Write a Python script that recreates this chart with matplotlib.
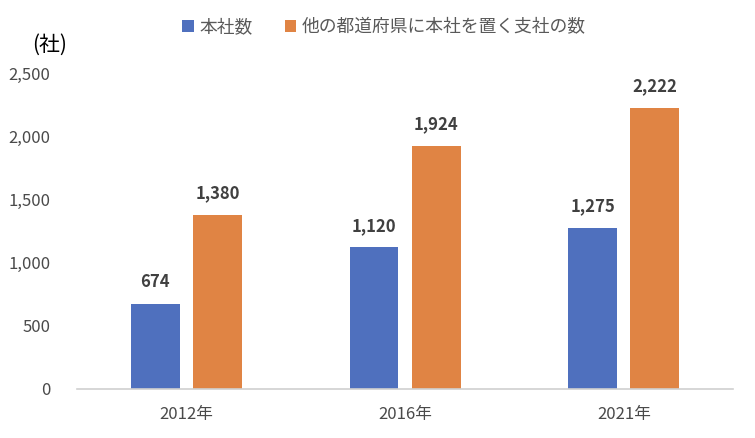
import matplotlib
matplotlib.use("Agg")
import matplotlib.pyplot as plt
import numpy as np

plt.rcParams['font.family'] = ['Noto Sans CJK JP', 'DejaVu Sans']

categories = ["2012年", "2016年", "2021年"]
series_names = ["本社数", "他の都道府県に本社を置く支社の数"]
honsha = [674, 1120, 1275]
shisha = [1380, 1924, 2222]
yticks = [0, 500, 1000, 1500, 2000, 2500]
colors = ["#4F70BE", "#E08444"]

fig = plt.figure(figsize=(7.55, 4.38), dpi=100)
ax = fig.add_axes([0.102, 0.1119, 0.869, 0.7214])

x = np.arange(len(categories))
w = 0.224
off = 0.142
b1 = ax.bar(x - off, honsha, w, color=colors[0], label=series_names[0])
b2 = ax.bar(x + off, shisha, w, color=colors[1], label=series_names[1])

for bars, vals in ((b1, honsha), (b2, shisha)):
    for r, v in zip(bars, vals):
        ax.annotate(f"{v:,}", (r.get_x() + r.get_width() / 2, v),
                    xytext=(0, 9), textcoords="offset points",
                    ha="center", va="bottom", fontsize=12,
                    fontweight="bold", color="#404040")

ax.set_xlim(-0.5, 2.5)
ax.set_ylim(0, 2500)
ax.set_yticks(yticks)
ax.set_yticklabels([f"{t:,}" for t in yticks])
ax.set_xticks(x)
ax.set_xticklabels(categories)
ax.tick_params(axis="both", length=0, labelsize=12, colors="#4A4A4A")
ax.tick_params(axis="y", pad=19)
ax.tick_params(axis="x", pad=12)
for s in ("top", "right", "left"):
    ax.spines[s].set_visible(False)
ax.spines["bottom"].set_color("#D0D0D0")
ax.spines["bottom"].set_linewidth(1.2)

fig.text(32 / 755, 1 - 45 / 438, "(社)", fontsize=15, color="#000000",
         ha="left", va="center")

fig.legend(handles=[b1, b2], labels=series_names, loc="center",
           bbox_to_anchor=(384 / 755, 1 - 27 / 438), ncol=2, frameon=False,
           fontsize=12.8, labelcolor="#595959", handlelength=0.65,
           handleheight=0.65, handletextpad=0.3, columnspacing=1.8)

fig.savefig("out.png", dpi=100)
